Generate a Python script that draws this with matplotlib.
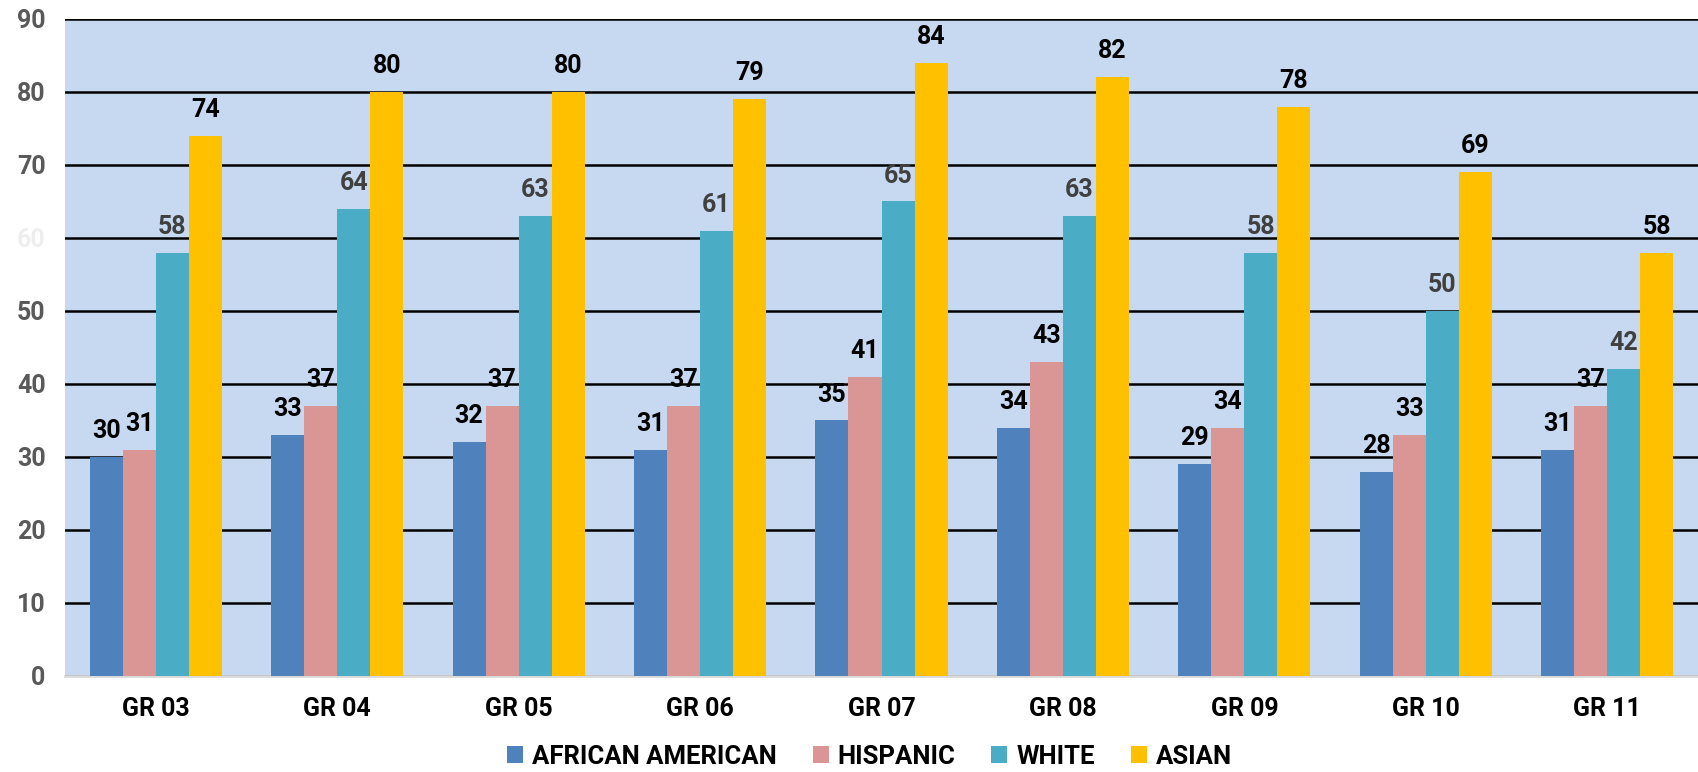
import matplotlib.pyplot as plt
import numpy as np

plt.rcParams['font.family'] = ['Roboto', 'DejaVu Sans']
plt.rcParams['font.weight'] = 'bold'

grades = ['GR 03', 'GR 04', 'GR 05', 'GR 06', 'GR 07', 'GR 08', 'GR 09', 'GR 10', 'GR 11']
african_american = [30, 33, 32, 31, 35, 34, 29, 28, 31]
hispanic = [31, 37, 37, 37, 41, 43, 34, 33, 37]
white = [58, 64, 63, 61, 65, 63, 58, 50, 42]
asian = [74, 80, 80, 79, 84, 82, 78, 69, 58]

series = [
    ('AFRICAN AMERICAN', african_american, '#4F81BD', 'black'),
    ('HISPANIC', hispanic, '#D99694', 'black'),
    ('WHITE', white, '#4BACC6', '#404040'),
    ('ASIAN', asian, '#FFC000', 'black'),
]

fig = plt.figure(figsize=(16.98, 7.72), dpi=100)
ax = fig.add_axes([0.0383, 0.1244, 0.9617, 0.851])
ax.set_facecolor('#C6D9F0')

x = np.arange(len(grades))
w = 0.182
for i, (name, vals, color, lblcolor) in enumerate(series):
    pos = x + (i - 1.5) * w
    bars = ax.bar(pos, vals, w, color=color, label=name, zorder=3)
    for b, v in zip(bars, vals):
        ax.annotate(str(v), (b.get_x() + b.get_width() / 2, v),
                    xytext=(0, 10), textcoords='offset points',
                    ha='center', va='bottom', fontsize=18,
                    fontweight='bold', color=lblcolor, zorder=4)

ax.set_xlim(-0.5, len(grades) - 0.5)
ax.set_ylim(0, 90)
ax.set_yticks(range(0, 91, 10))
ax.set_yticklabels([str(t) for t in range(0, 91, 10)])
for lbl in ax.get_yticklabels():
    lbl.set_color('#595959')
    if lbl.get_text() == '60':
        lbl.set_color('#EEEEEE')
ax.tick_params(axis='y', length=0, labelsize=18, pad=14)
ax.set_xticks(x)
ax.set_xticklabels(grades)
ax.tick_params(axis='x', length=0, labelsize=18, pad=15, labelcolor='black')

ax.grid(axis='y', color='black', linewidth=1.8, zorder=1)
ax.set_axisbelow(True)
for s in ['left', 'right', 'top']:
    ax.spines[s].set_visible(False)
ax.spines['bottom'].set_color('#D9D9D9')
ax.spines['bottom'].set_linewidth(2)

fig.legend(loc='center', bbox_to_anchor=(0.512, 0.02), ncol=4,
           frameon=False, fontsize=18.5, handlelength=0.62, handleheight=0.62,
           handletextpad=0.35, columnspacing=1.4)

fig.savefig('out.png', dpi=100)
